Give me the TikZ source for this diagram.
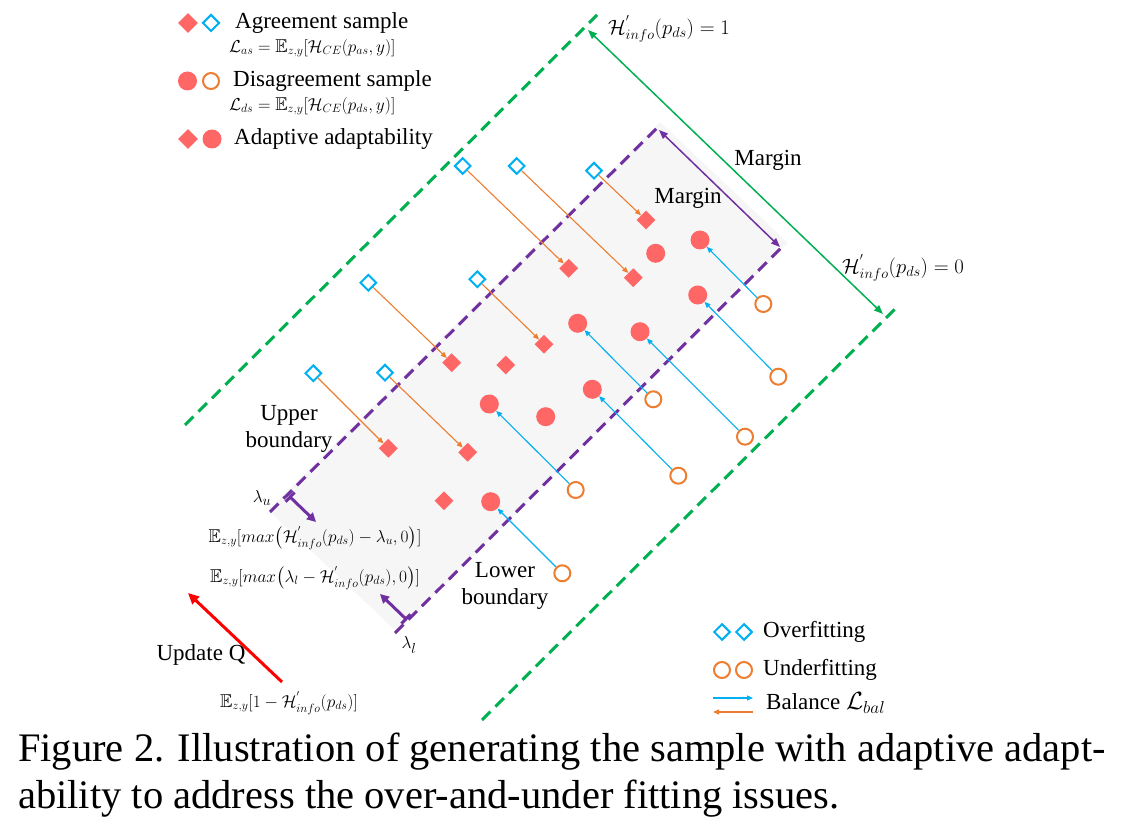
\documentclass[tikz,border=0pt]{standalone}
\usepackage{amsmath,amssymb}
\usepackage{fontspec}
\setmainfont{Liberation Serif}
\usetikzlibrary{shapes.geometric,arrows.meta}
\definecolor{sred}{RGB}{255,102,102}
\definecolor{sblue}{RGB}{0,176,240}
\definecolor{sorange}{RGB}{237,125,49}
\definecolor{sgreen}{RGB}{0,176,80}
\definecolor{spurple}{RGB}{112,48,160}
\definecolor{sgray}{RGB}{246,246,246}
\begin{document}
\begin{tikzpicture}[x=1pt,y=-1pt,
  rd/.style={diamond,fill=sred,inner sep=0,minimum size=19pt},
  bd/.style={diamond,draw=sblue,line width=2pt,inner sep=0,minimum size=16.5pt},
  rc/.style={circle,fill=sred,inner sep=0,minimum size=19pt},
  oc/.style={circle,draw=sorange,line width=2pt,inner sep=0,minimum size=16pt},
  oarr/.style={draw=sorange,line width=1.1pt,-{Triangle[length=6pt,width=5pt]}},
  barr/.style={draw=sblue,line width=1.1pt,-{Triangle[length=6pt,width=5pt]}},
  gdash/.style={draw=sgreen,line width=3pt,dash pattern=on 12pt off 7pt},
  pdash/.style={draw=spurple,line width=3pt,dash pattern=on 12pt off 7pt},
  lbl/.style={font=\fontsize{23}{26.5}\selectfont,inner sep=0},
  fml/.style={font=\fontsize{18.6}{20}\selectfont,inner sep=0},
  hlab/.style={font=\fontsize{21}{22}\selectfont,inner sep=0,anchor=west},
  captxt/.style={font=\fontsize{40.5}{48}\selectfont,inner sep=0,anchor=base west}]
\useasboundingbox (0,0) rectangle (1125,829);

% gray band
\fill[sgray] (268,510) -- (660,122) -- (788,243) -- (397,632) -- cycle;

% boundary lines
\coordinate (g1a) at (185,425); \coordinate (g1b) at (597,15);
\coordinate (g2a) at (482,720); \coordinate (g2b) at (897,307);
\draw[gdash] (g1a) -- (g1b);
\draw[gdash] (g2a) -- (g2b);
\coordinate (p1a) at (270,512); \coordinate (p1b) at (660,125);
\coordinate (p2a) at (395,633); \coordinate (p2b) at (785,244);
\draw[pdash] (p1a) -- (p1b);
\draw[pdash] (p2a) -- (p2b);

% margin arrows
\coordinate (ga) at (588,30); \coordinate (gb) at (883,314);
\draw[sgreen,line width=1.5pt,{Triangle[length=9pt,width=7pt]}-{Triangle[length=9pt,width=7pt]}] (ga) -- (gb);
\coordinate (pa) at (659,130); \coordinate (pb) at (780,247);
\draw[spurple,line width=1.5pt,{Triangle[length=9pt,width=7pt]}-{Triangle[length=9pt,width=7pt]}] (pa) -- (pb);

\node[hlab] (h1) at (608,29) {$\mathcal{H}^{'}_{info}(p_{ds})=1$};
\node[hlab] (h0) at (842,268) {$\mathcal{H}^{'}_{info}(p_{ds})=0$};
\node[lbl] (m1) at (768,160) {Margin};
\node[lbl] (m2) at (688,198) {Margin};

% lambda arrows
\coordinate (lu0) at (289,496); \coordinate (lu1) at (316,522);
\draw[spurple,line width=3pt,{Bar[width=13pt,line width=3pt]}-{Triangle[length=9pt,width=9pt]}] (lu0) -- (lu1);
\coordinate (ll0) at (407,620); \coordinate (ll1) at (380,594);
\draw[spurple,line width=3pt,{Bar[width=13pt,line width=3pt]}-{Triangle[length=9pt,width=9pt]}] (ll0) -- (ll1);
\node[fml,font=\fontsize{19}{20}\selectfont] (lu) at (262,498) {$\lambda_u$};
\node[fml,font=\fontsize{19}{20}\selectfont] (ll) at (409,645) {$\lambda_l$};
\node[fml] (fu) at (315,538) {$\mathbb{E}_{z,y}[max\big(\mathcal{H}^{'}_{info}(p_{ds})-\lambda_u,0\big)]$};
\node[fml] (fl) at (315,578) {$\mathbb{E}_{z,y}[max\big(\lambda_l-\mathcal{H}^{'}_{info}(p_{ds}),0\big)]$};

\node[lbl,align=center] (ub) at (289,429) {Upper\\boundary};
\node[lbl,align=center] (lb) at (505,586) {Lower\\boundary};

% update Q
\coordinate (ra) at (282,682); \coordinate (rb) at (188,593);
\draw[red,line width=3pt,-{Triangle[length=11pt,width=10pt]}] (ra) -- (rb);
\node[lbl] (uq) at (201,655) {Update Q};
\node[fml] (fq) at (289,703) {$\mathbb{E}_{z,y}[1-\mathcal{H}^{'}_{info}(p_{ds})]$};

% samples
\node[rd] (rd1) at (646,220) {};
\node[rd] (rd2) at (568.7,268.3) {};
\node[rd] (rd3) at (633.3,277.7) {};
\node[rd] (rd4) at (451.7,362.7) {};
\node[rd] (rd5) at (505.7,365) {};
\node[rd] (rd6) at (544,344.3) {};
\node[rd] (rd7) at (388.3,448.3) {};
\node[rd] (rd8) at (467.7,452.3) {};
\node[rd] (rd9) at (444,500.7) {};

\node[bd] (bd1) at (462.7,166) {};
\node[bd] (bd2) at (516.7,166) {};
\node[bd] (bd3) at (594,170.7) {};
\node[bd] (bd4) at (368.3,282.7) {};
\node[bd] (bd5) at (477.3,279.3) {};
\node[bd] (bd6) at (313.3,373.3) {};
\node[bd] (bd7) at (385,372.7) {};

\node[rc] (rc1) at (700,240) {};
\node[rc] (rc2) at (655.7,253.3) {};
\node[rc] (rc3) at (697.7,295) {};
\node[rc] (rc4) at (577.7,323.3) {};
\node[rc] (rc5) at (640,331.7) {};
\node[rc] (rc6) at (592.3,389.3) {};
\node[rc] (rc7) at (489.3,404) {};
\node[rc] (rc8) at (545.7,416.7) {};
\node[rc] (rc9) at (490.7,501.7) {};

\node[oc] (oc1) at (763.3,304) {};
\node[oc] (oc2) at (778.3,376.7) {};
\node[oc] (oc3) at (653.3,399.3) {};
\node[oc] (oc4) at (745,436.7) {};
\node[oc] (oc5) at (678.3,475.7) {};
\node[oc] (oc6) at (575.7,490) {};
\node[oc] (oc7) at (562.3,573.3) {};

\draw[oarr] (bd1) -- (rd2);
\draw[oarr] (bd2) -- (rd3);
\draw[oarr] (bd3) -- (rd1);
\draw[oarr] (bd4) -- (rd4);
\draw[oarr] (bd5) -- (rd6);
\draw[oarr] (bd6) -- (rd7);
\draw[oarr] (bd7) -- (rd8);

\draw[barr] (oc1) -- (rc1);
\draw[barr] (oc2) -- (rc3);
\draw[barr] (oc3) -- (rc4);
\draw[barr] (oc4) -- (rc5);
\draw[barr] (oc5) -- (rc6);
\draw[barr] (oc6) -- (rc7);
\draw[barr] (oc7) -- (rc9);

% top-left legend
\node[rd,minimum size=20pt] (L1a) at (188,23) {};
\node[bd,minimum size=17pt] (L1b) at (211,23) {};
\node[lbl,anchor=west] (L1t) at (235,23) {Agreement sample};
\node[fml,anchor=west] (L1f) at (229,48) {$\mathcal{L}_{as}=\mathbb{E}_{z,y}[\mathcal{H}_{CE}(p_{as},y)]$};
\node[rc] (L2a) at (187.5,81) {};
\node[oc] (L2b) at (211,81) {};
\node[lbl,anchor=west] (L2t) at (233,81) {Disagreement sample};
\node[fml,anchor=west] (L2f) at (229,106) {$\mathcal{L}_{ds}=\mathbb{E}_{z,y}[\mathcal{H}_{CE}(p_{ds},y)]$};
\node[rd,minimum size=20pt] (L3a) at (188,139) {};
\node[rc] (L3b) at (212,139) {};
\node[lbl,anchor=west] (L3t) at (234,139) {Adaptive adaptability};

% bottom-right legend
\node[bd] (R1a) at (722,632) {};
\node[bd] (R1b) at (744,632) {};
\node[lbl,anchor=west] (R1t) at (763,632) {Overfitting};
\node[oc] (R2a) at (722,670) {};
\node[oc] (R2b) at (744,670) {};
\node[lbl,anchor=west] (R2t) at (763,670) {Underfitting};
\coordinate (ba) at (713,698); \coordinate (bb) at (753,698);
\draw[barr] (ba) -- (bb);
\coordinate (oa) at (753,712); \coordinate (ob) at (713,712);
\draw[oarr] (oa) -- (ob);
\node[lbl,anchor=west] (R3t) at (766,703) {Balance $\mathcal{L}_{bal}$};

% caption
\node[captxt] (c1) at (18,761) {Figure 2. Illustration of generating the sample with adaptive adapt-};
\node[captxt] (c2) at (18,808) {ability to address the over-and-under fitting issues.};
\end{tikzpicture}
\end{document}
